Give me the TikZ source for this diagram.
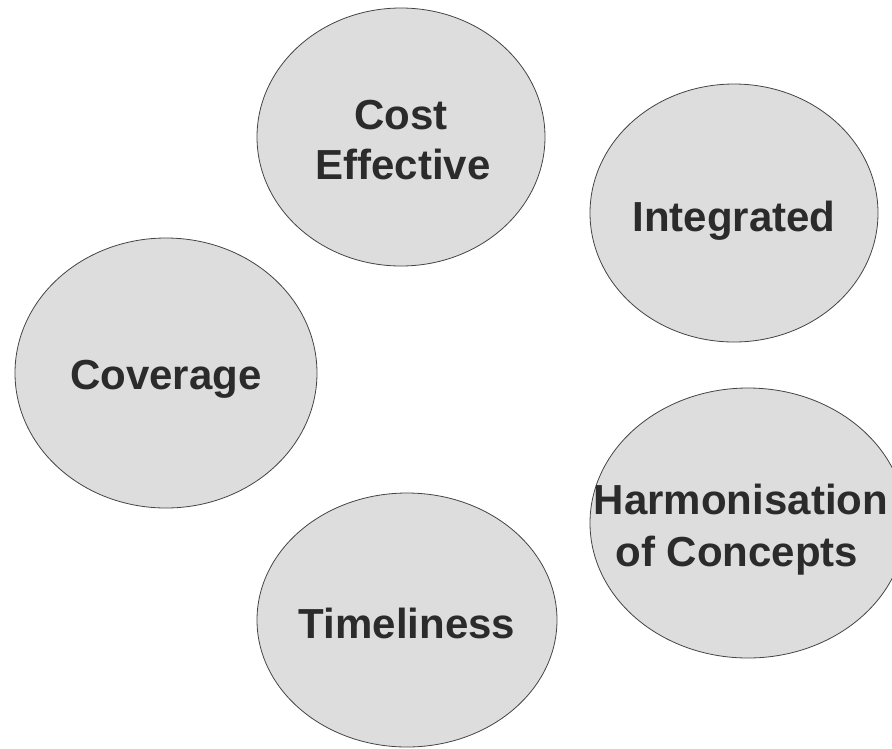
\documentclass[tikz,border=0pt]{standalone}
\usepackage{fontspec}
\setmainfont{Liberation Sans}
\usetikzlibrary{shapes.geometric}
\definecolor{bubblefill}{HTML}{DDDDDD}
\definecolor{bubbleline}{HTML}{444444}
\definecolor{txt}{HTML}{2B2B2B}
\begin{document}
\begin{tikzpicture}[x=1pt,y=1pt,
  bubble/.style={ellipse, draw=bubbleline, fill=bubblefill, line width=0.8pt, inner sep=0pt},
  lbl/.style={anchor=base, inner sep=0pt, text=txt, font=\fontsize{42}{50}\selectfont\bfseries}]
\useasboundingbox (0,0) rectangle (892,-748);
\clip (0,0) rectangle (892,-748);
\node[bubble, minimum width=288, minimum height=258] (cost) at (401,-137) {};
\node[bubble, minimum width=288, minimum height=258] (integ) at (734,-213) {};
\node[bubble, minimum width=302, minimum height=270] (cov) at (166,-373) {};
\node[bubble, minimum width=316, minimum height=270] (harm) at (748,-523) {};
\node[bubble, minimum width=300, minimum height=254] (time) at (407,-620) {};
\node[lbl] (cost1) at (401,-129) {Cost};
\node[lbl] (cost2) at (403,-179) {Effective};
\node[lbl] (integt) at (734,-231) {Integrated};
\node[lbl] (covt) at (166,-389) {Coverage};
\node[lbl] (harm1) at (741,-514) {Harmonisation};
\node[lbl] (harm2) at (737,-566) {of Concepts};
\node[lbl] (timet) at (407,-638) {Timeliness};
\end{tikzpicture}
\end{document}
